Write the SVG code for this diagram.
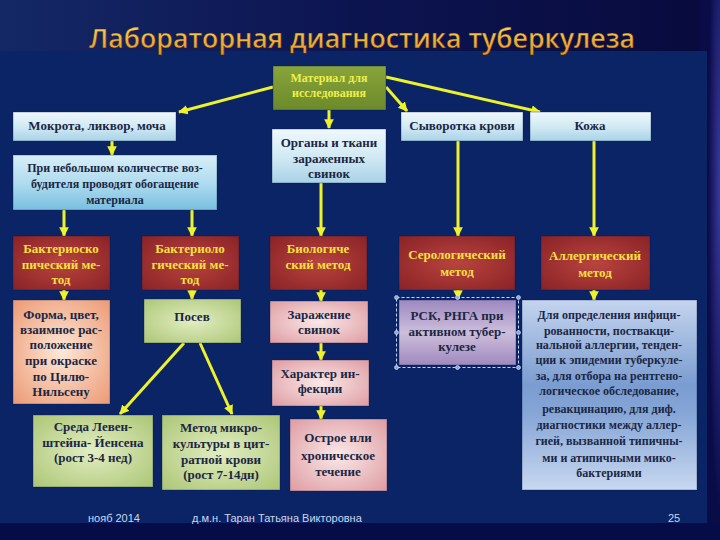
<svg xmlns="http://www.w3.org/2000/svg" width="720" height="540" viewBox="0 0 720 540">
<defs>
<linearGradient id="bgTop" x1="0" y1="0" x2="1" y2="0">
<stop offset="0" stop-color="#142866"/><stop offset="0.5" stop-color="#0c1450"/><stop offset="1" stop-color="#080a3c"/>
</linearGradient>
<radialGradient id="rightGlow" cx="1" cy="0.35" r="0.6">
<stop offset="0" stop-color="#3a3aa0"/><stop offset="1" stop-color="#0a0c48"/>
</radialGradient>
<linearGradient id="titleG" x1="0" y1="0" x2="0" y2="1">
<stop offset="0" stop-color="#fbe070"/><stop offset="1" stop-color="#e8901c"/>
</linearGradient>
<linearGradient id="gBlue" x1="0" y1="0" x2="0" y2="1">
<stop offset="0" stop-color="#eef8fc"/><stop offset="0.5" stop-color="#d2eaf4"/><stop offset="1" stop-color="#a9d2e8"/>
</linearGradient>
<linearGradient id="gBlue2" x1="0" y1="0" x2="0" y2="1">
<stop offset="0" stop-color="#d8eef8"/><stop offset="0.5" stop-color="#b0dcef"/><stop offset="1" stop-color="#78bfe0"/>
</linearGradient>
<radialGradient id="gRed" cx="0.5" cy="0.5" r="0.7">
<stop offset="0" stop-color="#b8443e"/><stop offset="1" stop-color="#8a2226"/>
</radialGradient>
<radialGradient id="gPeach" cx="0.5" cy="0.5" r="0.7">
<stop offset="0" stop-color="#fde8d8"/><stop offset="1" stop-color="#ec9a74"/>
</radialGradient>
<radialGradient id="gPink" cx="0.5" cy="0.5" r="0.7">
<stop offset="0" stop-color="#fae8e8"/><stop offset="1" stop-color="#de9ca2"/>
</radialGradient>
<radialGradient id="gGreen" cx="0.5" cy="0.5" r="0.7">
<stop offset="0" stop-color="#e2eec2"/><stop offset="1" stop-color="#acc676"/>
</radialGradient>
<linearGradient id="gOlive" x1="0" y1="0" x2="0" y2="1">
<stop offset="0" stop-color="#88a43c"/><stop offset="1" stop-color="#6c8a2a"/>
</linearGradient>
<linearGradient id="gLilac" x1="0" y1="0" x2="0" y2="1">
<stop offset="0" stop-color="#9e88c0"/><stop offset="0.5" stop-color="#cdbedb"/><stop offset="1" stop-color="#a08abe"/>
</linearGradient>
<linearGradient id="gLong" x1="0" y1="0" x2="0" y2="1">
<stop offset="0" stop-color="#c4d4ee"/><stop offset="0.45" stop-color="#7a9cd0"/><stop offset="0.6" stop-color="#86a6d6"/><stop offset="1" stop-color="#c8d8f0"/>
</linearGradient>
<marker id="ah" viewBox="0 0 10 10" refX="9" refY="5" markerWidth="3.2" markerHeight="3.2" orient="auto" markerUnits="strokeWidth">
<path d="M0,0 L10,5 L0,10 z" fill="#eef22a"/>
</marker>
<style>
.t{font-family:"Liberation Serif","Times New Roman",serif;font-weight:bold;font-size:13px;fill:#1b2744;text-anchor:middle}
.s{font-size:12px}
.y{fill:#f6e040}
.ol{fill:#eef04a;font-size:12px}
.box{stroke:#0a1a48;stroke-opacity:0.35;stroke-width:1}
.c line{stroke:#eef22a;stroke-width:3;marker-end:url(#ah)}
.f{font-family:"Liberation Sans",Arial,sans-serif;font-size:11px;fill:#cdd5ec}
</style>
</defs>

<rect x="0" y="0" width="720" height="540" fill="url(#bgTop)"/>
<rect x="700" y="0" width="20" height="540" fill="url(#rightGlow)"/>
<rect x="0" y="51" width="707" height="472" fill="#0a2466"/>
<rect x="0" y="523" width="720" height="17" fill="#060c48"/>

<text x="89" y="48" font-family="'Open Sans','Liberation Sans',sans-serif" font-weight="600" font-size="27" fill="url(#titleG)" stroke="#3a2000" stroke-width="0.4" textLength="546" lengthAdjust="spacingAndGlyphs">Лабораторная диагностика туберкулеза</text>

<g class="c" id="connectors">
<line x1="273" y1="87" x2="179" y2="112"/>
<line x1="329" y1="110" x2="329" y2="128"/>
<line x1="386" y1="87" x2="407" y2="111"/>
<line x1="386" y1="77" x2="540" y2="112"/>
<line x1="112" y1="141" x2="112" y2="155"/>
<line x1="64" y1="210" x2="64" y2="236"/>
<line x1="192" y1="210" x2="192" y2="236"/>
<line x1="321" y1="183" x2="321" y2="236"/>
<line x1="458" y1="141" x2="458" y2="236"/>
<line x1="594" y1="141" x2="594" y2="236"/>
<line x1="64" y1="290" x2="64" y2="300"/>
<line x1="192" y1="290" x2="192" y2="299"/>
<line x1="321" y1="290" x2="321" y2="301"/>
<line x1="458" y1="290" x2="458" y2="299"/>
<line x1="594" y1="290" x2="594" y2="300"/>
<line x1="184" y1="343" x2="120" y2="414"/>
<line x1="200" y1="343" x2="232" y2="414"/>
<line x1="321" y1="343" x2="321" y2="360"/>
<line x1="321" y1="406" x2="321" y2="419"/>
</g>

<g id="n-material">
<rect class="box" x="273" y="66" width="113" height="44" fill="url(#gOlive)"/>
<text class="t ol" x="329" y="82">Материал для</text>
<text class="t ol" x="329" y="97">исследования</text>
</g>
<g id="n-mokrota">
<rect class="box" x="13" y="112" width="163" height="29" fill="url(#gBlue)"/>
<text class="t" x="97" y="130">Мокрота, ликвор, моча</text>
</g>
<g id="n-organy">
<rect class="box" x="272" y="129" width="114" height="54" fill="url(#gBlue)"/>
<text class="t" x="329" y="147">Органы и ткани</text>
<text class="t" x="329" y="163">зараженных</text>
<text class="t" x="329" y="178">свинок</text>
</g>
<g id="n-syvorotka">
<rect class="box" x="401" y="112" width="122" height="29" fill="url(#gBlue)"/>
<text class="t" x="462" y="130">Сыворотка крови</text>
</g>
<g id="n-kozha">
<rect class="box" x="530" y="112" width="121" height="29" fill="url(#gBlue)"/>
<text class="t" x="590" y="130">Кожа</text>
</g>
<g id="n-obogashchenie">
<rect class="box" x="13" y="155" width="204" height="55" fill="url(#gBlue2)"/>
<text class="t s" x="115" y="172">При небольшом количестве воз-</text>
<text class="t s" x="115" y="188">будителя  проводят обогащение</text>
<text class="t s" x="115" y="204">материала</text>
</g>

<g id="n-bakterioskop">
<rect class="box" x="13" y="236" width="97" height="54" fill="url(#gRed)"/>
<text class="t y" x="61" y="253">Бактериоско</text>
<text class="t y" x="61" y="269">пический ме-</text>
<text class="t y" x="61" y="284">тод</text>
</g>
<g id="n-bakteriolog">
<rect class="box" x="142" y="236" width="97" height="54" fill="url(#gRed)"/>
<text class="t y" x="190" y="253">Бактериоло</text>
<text class="t y" x="190" y="269">гический ме-</text>
<text class="t y" x="190" y="284">тод</text>
</g>
<g id="n-biolog">
<rect class="box" x="270" y="236" width="97" height="54" fill="url(#gRed)"/>
<text class="t y" x="318" y="253">Биологиче</text>
<text class="t y" x="318" y="269">ский метод</text>
</g>
<g id="n-serolog">
<rect class="box" x="399" y="236" width="116" height="54" fill="url(#gRed)"/>
<text class="t y" x="457" y="259">Серологический</text>
<text class="t y" x="457" y="276">метод</text>
</g>
<g id="n-allerg">
<rect class="box" x="541" y="236" width="109" height="54" fill="url(#gRed)"/>
<text class="t y" x="595" y="260">Аллергический</text>
<text class="t y" x="595" y="277">метод</text>
</g>

<g id="n-forma">
<rect class="box" x="13" y="300" width="97" height="104" fill="url(#gPeach)"/>
<text class="t" x="61" y="319">Форма, цвет,</text>
<text class="t" x="61" y="334">взаимное рас-</text>
<text class="t" x="61" y="349">положение</text>
<text class="t" x="61" y="365">при окраске</text>
<text class="t" x="61" y="381">по Цилю-</text>
<text class="t" x="61" y="396">Нильсену</text>
</g>
<g id="n-posev">
<rect class="box" x="144" y="299" width="97" height="44" fill="url(#gGreen)"/>
<text class="t" x="192" y="321">Посев</text>
</g>
<g id="n-sreda">
<rect class="box" x="33" y="415" width="120" height="72" fill="url(#gGreen)"/>
<text class="t" x="93" y="431">Среда Левен-</text>
<text class="t" x="93" y="447">штейна- Йенсена</text>
<text class="t" x="93" y="462">(рост 3-4 нед)</text>
</g>
<g id="n-mikrokultura">
<rect class="box" x="162" y="415" width="118" height="75" fill="url(#gGreen)"/>
<text class="t" x="221" y="432">Метод микро-</text>
<text class="t" x="221" y="448">культуры в цит-</text>
<text class="t" x="221" y="464">ратной крови</text>
<text class="t" x="221" y="479">(рост 7-14дн)</text>
</g>
<g id="n-zarazhenie">
<rect class="box" x="270" y="301" width="98" height="42" fill="url(#gPink)"/>
<text class="t" x="319" y="319">Заражение</text>
<text class="t" x="319" y="334">свинок</text>
</g>
<g id="n-harakter">
<rect class="box" x="272" y="360" width="97" height="46" fill="url(#gPink)"/>
<text class="t" x="320" y="378">Характер ин-</text>
<text class="t" x="320" y="393">фекции</text>
</g>
<g id="n-ostroe">
<rect class="box" x="290" y="419" width="97" height="72" fill="url(#gPink)"/>
<text class="t" x="338" y="442">Острое  или</text>
<text class="t" x="338" y="460">хроническое</text>
<text class="t" x="338" y="476">течение</text>
</g>
<g id="n-rsk">
<rect class="box" x="399" y="300" width="117" height="65" fill="url(#gLilac)"/>
<text class="t" x="457" y="320">РСК, РНГА при</text>
<text class="t" x="457" y="336">активном тубер-</text>
<text class="t" x="457" y="351">кулезе</text>
<rect x="396.5" y="297.5" width="122" height="70" fill="none" stroke="#c8d4f0" stroke-width="1" stroke-dasharray="3,2"/>
<g fill="#8fa8e0" stroke="#dfe6f8" stroke-width="0.6">
<circle cx="396.5" cy="297.5" r="2"/><circle cx="457.5" cy="297.5" r="2"/><circle cx="518.5" cy="297.5" r="2"/>
<circle cx="396.5" cy="332.5" r="2"/><circle cx="518.5" cy="332.5" r="2"/>
<circle cx="396.5" cy="367.5" r="2"/><circle cx="457.5" cy="367.5" r="2"/><circle cx="518.5" cy="367.5" r="2"/>
</g>
</g>
<g id="n-dlya">
<rect class="box" x="522" y="300" width="175" height="190" fill="url(#gLong)"/>
<text class="t s" x="609" y="319">Для определения инфици-</text>
<text class="t s" x="609" y="335">рованности, поствакци-</text>
<text class="t s" x="609" y="349">нальной аллергии, тенден-</text>
<text class="t s" x="609" y="364">ции к эпидемии туберкуле-</text>
<text class="t s" x="609" y="380">за, для отбора на рентгено-</text>
<text class="t s" x="609" y="395">логическое обследование,</text>
<text class="t s" x="609" y="413">ревакцинацию, для диф.</text>
<text class="t s" x="609" y="429">диагностики между аллер-</text>
<text class="t s" x="609" y="445">гией, вызванной типичны-</text>
<text class="t s" x="609" y="462">ми и атипичными мико-</text>
<text class="t s" x="609" y="477">бактериями</text>
</g>

<text class="f" x="88" y="522">нояб 2014</text>
<text class="f" x="192" y="522">д.м.н. Таран Татьяна Викторовна</text>
<text class="f" x="668" y="522" font-size="12">25</text>
</svg>
